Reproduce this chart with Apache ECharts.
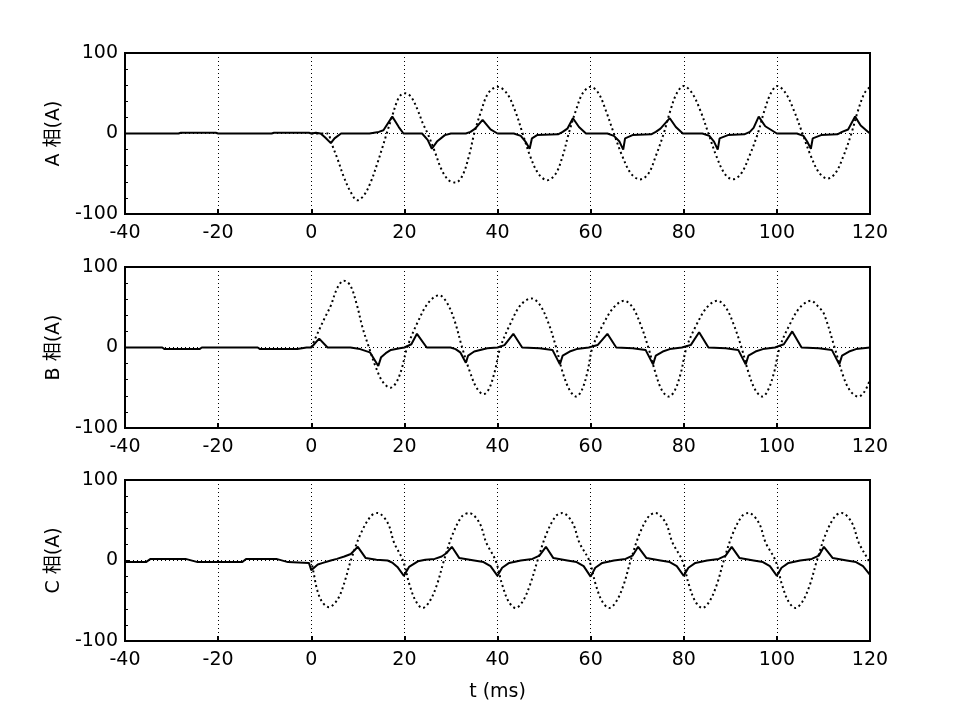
<!DOCTYPE html>
<html>
<head>
<meta charset="utf-8">
<script src="https://cdn.jsdelivr.net/npm/echarts@6/dist/echarts.min.js"></script>
<style>html,body{margin:0;padding:0;background:#fff}#chart{width:960px;height:720px}</style>
</head>
<body>
<div id="chart"></div>
<script>
// ---- Data (t in ms, current in A) ----
const xTicks = [-40, -20, 0, 20, 40, 60, 80, 100, 120];
const panelNames = ['A 相(A)', 'B 相(A)', 'C 相(A)'];

// Phase A - dotted (inrush)
const aDotT = [0,3.5,4.2,5.6,7,8.5,9.9,11.3,12.8,14.2,15.3,16.2,17.3,18.5,19.3,20.3,21.5,22.8,24,25,
  26.5,28,29.5,31,32.5,34,35,36.5,38,40,42,43.8,45.4,47,48.8,50.7,52.5,54,55.3,56.8,58.3,60,61.7,63.3,65,
  66.8,68.7,70.6,72.4,74,75.7,77.1,78.5,80,81.8,83.6,85.3,87,88.8,90.5,92.3,94.1,95.9,97.3,98.7,100.1,101.9,103.7,105.5,
  107.3,109.1,110.9,112.6,114.3,116,117.4,118.8,120];
const aDotV = [0,0,-10,-31,-54,-73,-83,-77,-60,-37,-17,0,20,41,48,50,45,30,12,0,
  -22,-45,-58,-61,-52,-25,0,28,50,58,50,28,0,-28,-50,-58,-50,-28,0,28,50,58,50,28,0,
  -28,-50,-57,-50,-28,0,28,50,59,50,28,0,-28,-50,-57,-50,-28,0,28,50,59,50,28,0,
  -28,-49,-56,-49,-28,0,28,50,58];
// Phase A - solid
const aSolT = [-40,-28.5,-28,-20.5,-20,-8.5,-8,-0.5,0,1,2,3,4.2,5,6.4,12.5,14.5,15.5,17.4,18.8,19.8,
  23.8,25,25.9,27,28.7,30,33.2,34.2,35.2,36.8,38.5,40,43.5,45,46,46.9,47.4,48.5,53,54,55,56.2,57.5,59,
  63.6,65,66.2,67,67.4,69,73,74,75,77,78.3,79.8,84,85.5,86.5,87.3,87.7,89.5,93,94.2,95,96.1,97.5,100,
  104.3,105.7,106.5,107.3,107.7,109.5,113,114,115.3,116.8,118,119.8,120];
const aSolV = [0,0,1,1,0,0,1,1,0,1,0,-5,-12,-6,0,0,2,4,21,8,0,
  0,-8,-19,-10,-2,0,0,2,6,17,5,0,0,-3,-10,-19,-6,-2,-1,2,6,19,8,0,
  0,-3,-10,-20,-6,-2,-1,2,6,19,8,0,0,-3,-10,-20,-6,-2,-1,2,7,21,9,0,
  0,-3,-10,-19,-6,-2,-1,2,5,21,10,1,1];

// Phase B - dotted
const bDotT = [0,1.7,3,4.2,5.6,7,8.4,9.8,11,12.4,13.9,15.4,17,18.2,19.4,20.6,22.9,25.2,27.5,29.2,30.8,32.4,
  34,35.5,37,38.2,39.4,40.6,42.8,45,47.3,49.1,50.9,52.6,54,55.5,56.9,58.1,59.3,60.4,62.7,65,67.2,69,70.7,72.4,
  73.9,75.3,76.8,78.1,79.4,80.6,82.8,85,87.2,89,90.7,92.4,93.9,95.4,96.9,98.1,99.4,100.6,102.8,105,107.3,109,110.1,112.4,
  114.4,115.9,117.5,118.8,120];
const bDotV = [0,22,38,52,74,83,77,53,25,0,-25,-43,-50,-44,-27,0,32,56,65,55,33,0,
  -29,-50,-58,-51,-30,0,30,53,61,53,31,0,-31,-53,-61,-53,-31,0,29,50,58,50,29,0,
  -31,-53,-61,-53,-31,0,29,50,58,50,29,0,-31,-53,-61,-53,-31,0,29,50,58,50,42,0,
  -38,-55,-61,-55,-40];
// Phase B - solid
const bSolT = [-40,-32,-31.5,-24,-23.5,-11.5,-11,-3,-1,0,1.7,3.5,8.4,10.5,12.6,14.4,15,16,17.1,19,20,21.5,22.7,24.8,
  29.9,31,32,33.2,33.7,35,37.8,40,41.5,43.4,45.3,49,51.8,53.4,54,55.5,57,59.6,61.5,63.6,65.5,
  69,71.8,73.4,74,75.5,77,79.6,81.5,83.3,85.3,89,91.7,93.3,93.9,95.4,97,99.6,101.5,103.3,105.3,
  109,111.8,113.4,114,115.5,117,120];
const bSolV = [0,0,-2,-2,0,0,-2,-2,0,0,11,0,0,-2,-6,-23,-12,-7,-3,-1,0,4,17,0,
  0,-2,-6,-19,-10,-5,-1,0,3,17,0,-1,-3,-21,-10,-5,-2,0,3,17,0,
  -1,-3,-21,-10,-5,-2,0,3,19,0,-1,-3,-21,-10,-5,-2,0,4,20,0,
  -1,-3,-21,-10,-5,-2,0];

// Phase C - dotted
const cDotT = [0,0.5,1.3,2.4,3.8,5.2,6.3,7.4,8.5,10.6,12.8,14.2,16.4,17.8,19.7,21.1,22.5,23.9,25.4,27,28.5,
  30.4,32.4,33.9,36.1,37.6,39.6,41,42.4,43.9,45.4,47,48.6,50.5,52.5,53.9,56.1,57.6,59.7,61.1,62.5,64,65.5,67.1,68.6,
  70.5,72.5,73.9,76.1,77.6,79.7,81.1,82.5,84,85.5,87.1,88.6,90.5,92.5,93.9,96.1,97.6,99.7,101.1,102.5,104,105.5,107.1,108.6,
  110.5,112.5,113.9,116.1,117.6,119.7,120];
const cDotV = [0,-15,-37,-52,-58,-52,-41,-22,0,33,55,59,47,22,0,-30,-51,-59,-51,-30,0,
  33,55,59,47,22,0,-30,-51,-59,-51,-30,0,33,55,59,47,22,0,-30,-51,-59,-51,-30,0,
  33,55,59,47,22,0,-30,-51,-59,-51,-30,0,33,55,59,47,22,0,-30,-51,-59,-51,-30,0,
  33,55,59,47,22,0,-4];
// Phase C - solid
const cSolT = [-40,-35.5,-34.5,-27,-24.4,-14.8,-14,-7.5,-5,-0.5,0,1.4,2.5,4.2,5.5,7.1,8.5,10,11.7,14,16.4,17.5,18.5,19.9,21,22.9,
  24.5,26.5,28,29,30.2,31.8,35,37,38.5,40,41,42.5,45,47.5,49,50.4,52,55,57,58.5,60,61,62.5,65,
  67.5,69,70.2,72,75,77,78.5,80,81,82.5,85,87.5,89,90.3,92,95,97,98.5,100,101,102.5,105,
  107.5,109,110.1,112,115,117,118.5,120];
const cSolV = [-2,-2,2,2,-2,-2,2,2,-2,-3,-12,-5,-3,0,2,5,8,17,3,1,0,-3,-8,-19,-8,-1,
  1,2,5,9,17,3,0,-2,-7,-19,-9,-3,0,2,6,17,3,0,-2,-7,-20,-9,-3,0,
  2,6,17,3,0,-2,-7,-19,-9,-3,0,2,6,17,3,0,-2,-7,-19,-9,-3,0,
  2,6,17,3,0,-2,-7,-18];

// ---- Build chart ----
const zip = (t, v) => t.map((x, i) => [x, v[i]]);
const FONT = "'DejaVu Sans', 'Noto Sans CJK SC', sans-serif";
const tops = [53, 267, 480];
const H = 161;
const dotSets = [[aDotT, aDotV], [bDotT, bDotV], [cDotT, cDotV]];
const solSets = [[aSolT, aSolV], [bSolT, bSolV], [cSolT, cSolV]];

const grids = [], xAxes = [], yAxes = [], series = [];
for (let i = 0; i < 3; i++) {
  grids.push({left: 125, width: 745, top: tops[i], height: H, show: true,
    borderColor: '#000', borderWidth: 2, backgroundColor: '#fff'});
  xAxes.push({
    type: 'value', gridIndex: i, min: xTicks[0], max: xTicks[xTicks.length - 1], interval: 20,
    axisLine: {show: true, onZero: false, lineStyle: {color: '#000', width: 2}},
    axisTick: {show: true, inside: true, length: 5, lineStyle: {color: '#000', width: 2}},
    axisLabel: {color: '#000', fontSize: 19, fontFamily: FONT, margin: 10},
    splitLine: {show: true, lineStyle: {color: '#000', width: 1, type: [1, 3]}},
    name: i === 2 ? 't (ms)' : '', nameLocation: 'middle', nameGap: 42,
    nameTextStyle: {color: '#000', fontSize: 19, fontFamily: FONT}
  });
  yAxes.push({
    type: 'value', gridIndex: i, min: -100, max: 100, interval: 100,
    axisLine: {show: true, onZero: false, lineStyle: {color: '#000', width: 2}},
    axisTick: {show: true, inside: true, length: 5, lineStyle: {color: '#000', width: 1}},
    minorTick: {show: true, splitNumber: 5, length: 3, lineStyle: {color: '#000', width: 1}},
    axisLabel: {color: '#000', fontSize: 19, fontFamily: FONT, margin: 7},
    splitLine: {show: true, lineStyle: {color: '#000', width: 1, type: [1, 3]}},
    name: panelNames[i], nameLocation: 'middle', nameGap: 57, nameRotate: 90,
    nameTextStyle: {color: '#000', fontSize: 19, fontFamily: FONT}
  });
  series.push({
    type: 'line', xAxisIndex: i, yAxisIndex: i, data: zip(dotSets[i][0], dotSets[i][1]),
    showSymbol: false, smooth: 0.35, lineStyle: {color: '#000', width: 2, type: [2, 3]}, z: 3
  });
  series.push({
    type: 'line', xAxisIndex: i, yAxisIndex: i, data: zip(solSets[i][0], solSets[i][1]),
    showSymbol: false, smooth: false, lineStyle: {color: '#000', width: 2}, z: 4
  });
}

const chart = echarts.init(document.getElementById('chart'), null, {renderer: 'canvas'});
chart.setOption({
  animation: false,
  backgroundColor: '#fff',
  grid: grids, xAxis: xAxes, yAxis: yAxes, series: series
});
</script>
</body>
</html>
